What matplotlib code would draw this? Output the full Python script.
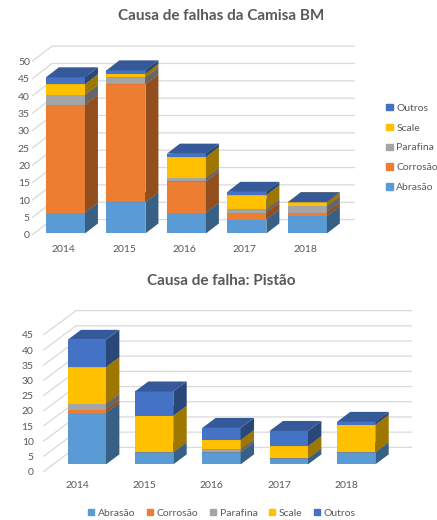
import matplotlib
matplotlib.use("Agg")
import matplotlib.pyplot as plt
from matplotlib.colors import to_rgb
from matplotlib.patches import Polygon, Patch
import numpy as np

plt.rcParams.update({"font.family": ["Lato", "DejaVu Sans"]})

W, H = 437, 520
TXT = "#595959"
GRID = "#D9D9D9"

years = ["2014", "2015", "2016", "2017", "2018"]
causes = ["Abrasão", "Corrosão", "Parafina", "Scale", "Outros"]
colors = ["#5B9BD5", "#ED7D31", "#A5A5A5", "#FFC000", "#4472C4"]

# Camisa BM
camisa_abrasao = [6, 9, 6, 4, 5]
camisa_corrosao = [31, 34, 9, 2, 1]
camisa_parafina = [3, 2, 1, 1, 2]
camisa_scale = [3, 1, 6, 4, 1]
camisa_outros = [2, 1, 1, 1, 0]

# Pistão
pistao_abrasao = [17, 4, 4, 2, 4]
pistao_corrosao = [1, 0, 0, 0, 0]
pistao_parafina = [2, 0, 1, 0, 0]
pistao_scale = [12, 12, 3, 4, 9]
pistao_outros = [9, 8, 4, 5, 1]


def shade(c, f):
    r, g, b = to_rgb(c)
    return (r * f, g * f, b * f)


def px_axes(left, right, top, bottom):
    return fig.add_axes([left / W, 1 - bottom / H, (right - left) / W, (bottom - top) / H])


def chart(ax, series, ymax, step, gx, gy, d0, d1, width, ypad, xpad):
    """Stacked columns drawn as boxes in an oblique 3D look.
    gx, gy: offset (data units) from floor front edge to back wall.
    d0, d1: depth fraction where the columns start and end."""
    x = np.arange(len(years))
    xl, xr = ax.get_xlim()
    ticks = list(range(0, ymax + 1, step))
    for v in ticks:
        ax.plot([xl, xl + gx, xr + gx], [v, v + gy, v + gy], color=GRID, lw=0.9,
                clip_on=False, zorder=1, solid_capstyle="butt")
    ax.set_yticks(ticks)
    ax.set_xticks(x, years)
    ax.tick_params(length=0, labelsize=7.5, labelcolor=TXT)
    ax.tick_params(axis="y", pad=ypad)
    ax.tick_params(axis="x", pad=xpad)
    for s in ax.spines.values():
        s.set_visible(False)
    ax.patch.set_visible(False)

    ox, oy = d0 * gx, d0 * gy
    dx, dy = (d1 - d0) * gx, (d1 - d0) * gy
    bottom = np.zeros(len(years))
    for k, (vals, c) in enumerate(zip(series, colors)):
        vals = np.asarray(vals, float)
        z = 2 + k
        ax.bar(x + ox, vals, width, bottom=bottom + oy, color=c, zorder=z,
               clip_on=False, linewidth=0)
        for xi, b, h in zip(x, bottom, vals):
            x0 = xi + ox - width / 2
            x1 = x0 + width
            y0 = b + oy
            y1 = y0 + h
            ax.add_patch(Polygon([(x1, y0), (x1 + dx, y0 + dy), (x1 + dx, y1 + dy), (x1, y1)],
                                 fc=shade(c, 0.62), lw=0, zorder=z, clip_on=False))
            ax.add_patch(Polygon([(x0, y1), (x1, y1), (x1 + dx, y1 + dy), (x0 + dx, y1 + dy)],
                                 fc=shade(c, 0.78), lw=0, zorder=z, clip_on=False))
        bottom += vals


fig = plt.figure(figsize=(W / 100, H / 100), dpi=100)

# top chart: Camisa BM
ax1 = px_axes(32, 335, 61.5, 235)
ax1.set_xlim(-0.52, 4.49)
ax1.set_ylim(0, 50)
chart(ax1, [camisa_abrasao, camisa_corrosao, camisa_parafina, camisa_scale, camisa_outros],
      50, 5, gx=20 / 60.5, gy=15.4 / 3.47, d0=0.1, d1=0.75, width=0.645, ypad=1.5, xpad=7)
fig.text(221 / W, 1 - 16 / H, "Causa de falhas da Camisa BM", ha="center", va="center",
         fontsize=11, weight="bold", color=TXT)

handles = [Patch(color=c, label=l) for c, l in zip(colors, causes)]
fig.legend(handles=handles[::-1], loc="center left", bbox_to_anchor=(377 / W, 1 - 148 / H),
           frameon=False, fontsize=7.5, labelcolor=TXT, handlelength=0.6, handleheight=0.6,
           handletextpad=0.35, labelspacing=1.05)

# bottom chart: Pistão
ax2 = px_axes(43.3, 379.3, 335, 471.7)
ax2.set_xlim(-0.5, 4.49)
ax2.set_ylim(0, 45)
chart(ax2, [pistao_abrasao, pistao_corrosao, pistao_parafina, pistao_scale, pistao_outros],
      45, 5, gx=32.7 / 67.35, gy=24.4 / 3.04, d0=0.3, d1=0.71, width=0.57, ypad=7, xpad=7)
fig.text(221 / W, 1 - 281 / H, "Causa de falha: Pistão", ha="center", va="center",
         fontsize=11, weight="bold", color=TXT)

fig.legend(handles=handles, loc="center", bbox_to_anchor=(222 / W, 1 - 513 / H), ncol=5,
           frameon=False, fontsize=7.5, labelcolor=TXT, handlelength=0.6, handleheight=0.6,
           handletextpad=0.35, columnspacing=1.1)

fig.savefig("out.png", dpi=100)
